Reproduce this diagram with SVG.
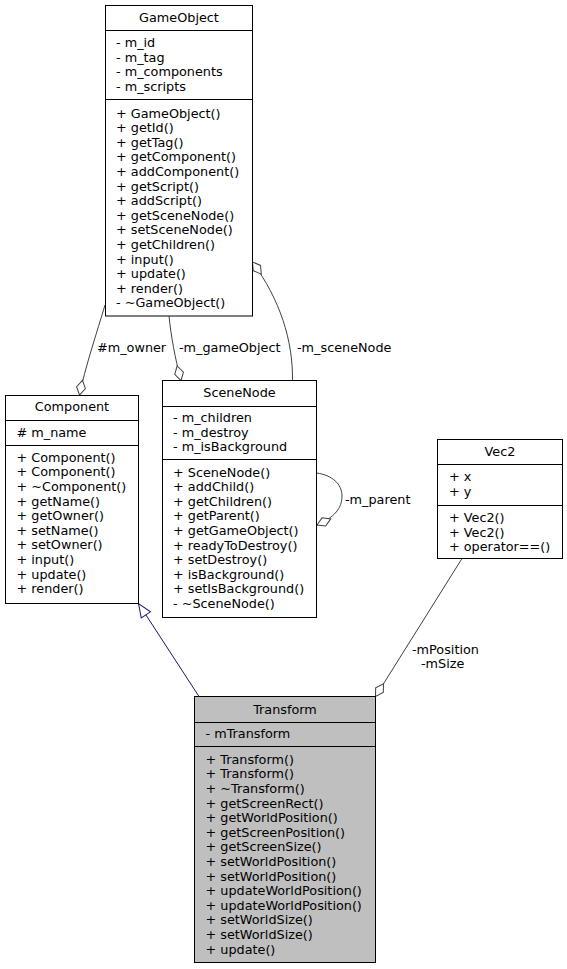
<svg xmlns="http://www.w3.org/2000/svg" width="567" height="969" viewBox="0 0 567 969">
<style>
.box{fill:#ffffff;stroke:#000000;stroke-width:1}
.cur{fill:#bfbfbf}
.div{stroke:#000000;stroke-width:1;fill:none}
text{font-family:"DejaVu Sans","Noto Sans",sans-serif;font-size:12.8px;fill:#000000}
.t{text-anchor:middle}
.e{fill:none;stroke:#404040;stroke-width:1}
.inh{fill:none;stroke:#191970;stroke-width:1}
</style>
<defs>
<marker id="dia" markerUnits="userSpaceOnUse" markerWidth="17" markerHeight="11" refX="16" refY="5.5" orient="auto" overflow="visible">
<path d="M1,5.5 L8.5,1 L16,5.5 L8.5,10 Z" fill="#ffffff" stroke="#404040" stroke-width="1"/>
</marker>
<marker id="tri" markerUnits="userSpaceOnUse" markerWidth="15" markerHeight="12" refX="14" refY="6" orient="auto" overflow="visible">
<path d="M0.5,0.5 L14,6 L0.5,11.5 Z" fill="#ffffff" stroke="#191970" stroke-width="1"/>
</marker>
</defs>
<g id="edges">
<path class="e" d="M105,305 C97,332 85,368 79.5,395" marker-end="url(#dia)"/>
<text x="97" y="351.5">#m_owner</text>
<path class="e" d="M169,316 C171,336 175,358 181,380.5" marker-end="url(#dia)"/>
<text x="179" y="351.5">-m_gameObject</text>
<path class="e" d="M292.5,380.5 C293,340 280,300 252.5,262" marker-end="url(#dia)"/>
<text x="297" y="351.5">-m_sceneNode</text>
<path class="e" d="M316.5,473 C332,475 342,484 342,496 C342,508 335,517 317,525" marker-end="url(#dia)"/>
<text x="345" y="503.5">-m_parent</text>
<path class="inh" d="M199,696.5 L138.5,603.5" marker-end="url(#tri)"/>
<path class="e" d="M462,558.5 L375.5,696.5" marker-end="url(#dia)"/>
<text x="412" y="653.5">-mPosition</text>
<text x="421" y="668">-mSize</text>
</g>
<g id="GameObject">
<rect class="box" x="105.5" y="5.5" width="147" height="310.5"/>
<path class="div" d="M105.5,30.5 H252.5 M105.5,99.5 H252.5"/>
<text class="t" x="179" y="22">GameObject</text>
<text x="116" y="47">- m_id</text>
<text x="116" y="61.6">- m_tag</text>
<text x="116" y="76.2">- m_components</text>
<text x="116" y="90.8">- m_scripts</text>
<text x="116" y="117.5">+ GameObject()</text>
<text x="116" y="132.1">+ getId()</text>
<text x="116" y="146.7">+ getTag()</text>
<text x="116" y="161.3">+ getComponent()</text>
<text x="116" y="175.9">+ addComponent()</text>
<text x="116" y="190.5">+ getScript()</text>
<text x="116" y="205.1">+ addScript()</text>
<text x="116" y="219.7">+ getSceneNode()</text>
<text x="116" y="234.3">+ setSceneNode()</text>
<text x="116" y="248.9">+ getChildren()</text>
<text x="116" y="263.5">+ input()</text>
<text x="116" y="278.1">+ update()</text>
<text x="116" y="292.7">+ render()</text>
<text x="116" y="307.3">- ~GameObject()</text>
</g>
<g id="Component">
<rect class="box" x="5.5" y="395.5" width="133" height="208"/>
<path class="div" d="M5.5,420.5 H138.5 M5.5,445.5 H138.5"/>
<text class="t" x="72" y="411">Component</text>
<text x="16.5" y="437">#  m_name</text>
<text x="16.5" y="461.8">+ Component()</text>
<text x="16.5" y="476.4">+ Component()</text>
<text x="16.5" y="491">+ ~Component()</text>
<text x="16.5" y="505.6">+ getName()</text>
<text x="16.5" y="520.2">+ getOwner()</text>
<text x="16.5" y="534.8">+ setName()</text>
<text x="16.5" y="549.4">+ setOwner()</text>
<text x="16.5" y="564">+ input()</text>
<text x="16.5" y="578.6">+ update()</text>
<text x="16.5" y="593.2">+ render()</text>
</g>
<g id="SceneNode">
<rect class="box" x="162.5" y="380.5" width="154" height="237"/>
<path class="div" d="M162.5,406.5 H316.5 M162.5,459.5 H316.5"/>
<text class="t" x="239.5" y="397">SceneNode</text>
<text x="173" y="422">- m_children</text>
<text x="173" y="436.5">- m_destroy</text>
<text x="173" y="451">- m_isBackground</text>
<text x="173" y="476.5">+ SceneNode()</text>
<text x="173" y="491.1">+ addChild()</text>
<text x="173" y="505.7">+ getChildren()</text>
<text x="173" y="520.3">+ getParent()</text>
<text x="173" y="534.9">+ getGameObject()</text>
<text x="173" y="549.5">+ readyToDestroy()</text>
<text x="173" y="564.1">+ setDestroy()</text>
<text x="173" y="578.7">+ isBackground()</text>
<text x="173" y="593.3">+ setIsBackground()</text>
<text x="173" y="607.9">- ~SceneNode()</text>
</g>
<g id="Vec2">
<rect class="box" x="437.5" y="439.5" width="125" height="119"/>
<path class="div" d="M437.5,464.5 H562.5 M437.5,505.5 H562.5"/>
<text class="t" x="500" y="456">Vec2</text>
<text x="449" y="481">+ x</text>
<text x="449" y="495.6">+ y</text>
<text x="449" y="522">+ Vec2()</text>
<text x="449" y="536.6">+ Vec2()</text>
<text x="449" y="551.2">+ operator==()</text>
</g>
<g id="Transform">
<rect class="box cur" x="194.5" y="696.5" width="181" height="266"/>
<path class="div" d="M194.5,722.5 H375.5 M194.5,746.5 H375.5"/>
<text class="t" x="285" y="713.5">Transform</text>
<text x="205.5" y="738">- mTransform</text>
<text x="205.5" y="763.8">+ Transform()</text>
<text x="205.5" y="778.4">+ Transform()</text>
<text x="205.5" y="793">+ ~Transform()</text>
<text x="205.5" y="807.6">+ getScreenRect()</text>
<text x="205.5" y="822.2">+ getWorldPosition()</text>
<text x="205.5" y="836.8">+ getScreenPosition()</text>
<text x="205.5" y="851.4">+ getScreenSize()</text>
<text x="205.5" y="866">+ setWorldPosition()</text>
<text x="205.5" y="880.6">+ setWorldPosition()</text>
<text x="205.5" y="895.2">+ updateWorldPosition()</text>
<text x="205.5" y="909.8">+ updateWorldPosition()</text>
<text x="205.5" y="924.4">+ setWorldSize()</text>
<text x="205.5" y="939">+ setWorldSize()</text>
<text x="205.5" y="953.6">+ update()</text>
</g>
</svg>
